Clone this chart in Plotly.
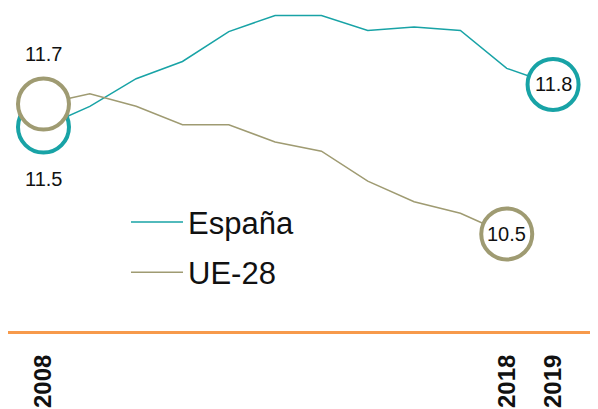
import plotly.graph_objects as go

# Tasa de paro / indicador, 2008-2019
years = list(range(2008, 2020))
espana = [11.50, 11.68, 11.92, 12.07, 12.33, 12.47, 12.47, 12.34, 12.37, 12.34, 12.01, 11.87]
ue28 = [11.70, 11.79, 11.68, 11.52, 11.52, 11.37, 11.29, 11.03, 10.85, 10.75, 10.57]

tick_years = [2008, 2018, 2019]
espana_labels = ["11.5", "11.8"]
ue28_labels = ["11.7", "10.5"]

COLORS = {
    "espana": "#18A3A6",
    "ue28": "#9F9B72",
    "axis": "#F79A4B",
    "text": "#111111",
}
FONT = "Liberation Sans, Arial, sans-serif"

fig = go.Figure()

fig.add_trace(go.Scatter(
    x=years, y=espana, mode="lines", name="España",
    line=dict(color=COLORS["espana"], width=1.5),
    legendgroup="es",
))
fig.add_trace(go.Scatter(
    x=years[:len(ue28)], y=ue28, mode="lines", name="UE-28",
    line=dict(color=COLORS["ue28"], width=1.5),
    legendgroup="ue",
))

# end-point circles
fig.add_trace(go.Scatter(
    x=[years[0], years[len(espana) - 1]], y=[espana[0], espana[-1]],
    mode="markers", showlegend=False, hoverinfo="skip",
    marker=dict(size=51, color="white", line=dict(color=COLORS["espana"], width=4)),
))
fig.add_trace(go.Scatter(
    x=[years[0], years[len(ue28) - 1]], y=[ue28[0], ue28[-1]],
    mode="markers", showlegend=False, hoverinfo="skip",
    marker=dict(size=51, color="white", line=dict(color=COLORS["ue28"], width=4)),
))

# value labels
lab_font = dict(family=FONT, size=20, color=COLORS["text"])
fig.add_annotation(x=years[0], y=espana[0], text=espana_labels[0],
                   showarrow=False, yshift=-52, font=lab_font)
fig.add_annotation(x=years[0], y=ue28[0], text=ue28_labels[0],
                   showarrow=False, yshift=50, font=lab_font)
fig.add_annotation(x=years[len(espana) - 1], y=espana[-1], text=espana_labels[1],
                   showarrow=False, font=lab_font)
fig.add_annotation(x=years[len(ue28) - 1], y=ue28[-1], text=ue28_labels[1],
                   showarrow=False, font=lab_font)

# page body has an 8px margin, so the figure is sized to the visible area
fig.update_layout(
    width=590, height=401,
    paper_bgcolor="white", plot_bgcolor="white",
    margin=dict(l=0, r=0, t=0, b=78),
    font=dict(family=FONT, color=COLORS["text"]),
    showlegend=True,
    legend=dict(
        x=0.2, y=0.42, xanchor="left", yanchor="top",
        font=dict(family=FONT, size=31, color=COLORS["text"]),
        bgcolor="rgba(0,0,0,0)", tracegroupgap=7, itemwidth=52,
    ),
    xaxis=dict(
        range=[2007.234, 2019.97],
        showgrid=False, zeroline=False,
        showline=True, linecolor=COLORS["axis"], linewidth=3,
        tickmode="array", tickvals=tick_years,
        ticktext=[f"<b>{y}</b>" for y in tick_years],
        tickangle=-90, ticks="", ticklabelstandoff=11,
        tickfont=dict(family=FONT, size=24, color=COLORS["text"]),
    ),
    yaxis=dict(
        range=[9.726, 12.535],
        visible=False, showgrid=False, zeroline=False,
    ),
)

fig.write_html("out.html")
